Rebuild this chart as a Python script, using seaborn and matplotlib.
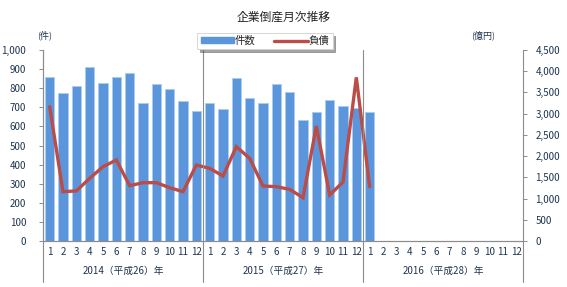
import matplotlib
matplotlib.use("Agg")
import matplotlib.pyplot as plt
import matplotlib.transforms as mtransforms
from matplotlib.lines import Line2D
from matplotlib.patches import Patch
import seaborn as sns
import pandas as pd
import numpy as np

# ---- data ----
years = ["2014（平成26）年", "2015（平成27）年", "2016（平成28）年"]
months = [str(m) for m in range(1, 13)]
counts = [860, 777, 813, 913, 829, 860, 881, 724, 824, 798, 735, 682,
          721, 689, 855, 747, 721, 820, 782, 632, 674, 740, 709, 698,
          674]
debt = [3165, 1162, 1180, 1476, 1751, 1908, 1303, 1374, 1374, 1256, 1162, 1790,
        1712, 1531, 2222, 1948, 1296, 1280, 1217, 1021, 2709, 1084, 1390, 3856,
        1280]
left_ticks = list(range(0, 1001, 100))
right_ticks = list(range(0, 4501, 500))
title = "企業倒産月次推移"

sns.set_theme(style="white")
plt.rcParams['font.family'] = ['Noto Sans CJK JP', 'DejaVu Sans']

n_slots = len(years) * len(months)
slots = [f"{y}-{m}" for y in range(len(years)) for m in months]
df = pd.DataFrame({"slot": slots[:len(counts)], "count": counts,
                   "pos": np.arange(len(counts)), "debt": debt})

fig = plt.figure(figsize=(5.67, 2.87), dpi=100)
ax = fig.add_axes([43/567, 1-241/287, 480/567, 191/287])

bar_c = "#5b96dc"
line_c = "#bb4c48"
grey = "#8c8c8c"
txt_c = "#1f3550"

sns.barplot(data=df, x="slot", y="count", order=slots, color=bar_c,
            edgecolor="#a9cdf2", linewidth=0.6, width=0.68, saturation=1, ax=ax)
ax.set_xlim(-0.5, n_slots - 0.5)
ax.set_ylim(0, 1000)
ax.set_yticks(left_ticks)
ax.set_yticklabels([f"{v:,}" for v in left_ticks], fontsize=7, color=txt_c)
ax.set_xticks(range(n_slots))
ax.set_xticklabels(months * len(years), fontsize=7, color=txt_c)
ax.set_xlabel("")
ax.set_ylabel("")
ax.set_xticks(np.arange(-0.5, n_slots, 1), minor=True)
ax.tick_params(axis="x", which="major", length=0, pad=4)
ax.tick_params(axis="x", which="minor", length=12, width=0.7, color=grey, direction="out")
ax.tick_params(axis="y", length=3, width=0.7, color=grey, direction="out", left=True, pad=9)

ax2 = ax.twinx()
sns.lineplot(data=df, x="pos", y="debt", color=line_c, linewidth=2.4, ax=ax2,
             solid_joinstyle="miter")
ax2.set_ylim(0, 4500)
ax2.set_xlim(-0.5, n_slots - 0.5)
ax2.set_yticks(right_ticks)
ax2.set_yticklabels([f"{v:,}" for v in right_ticks], fontsize=7, color=txt_c)
ax2.set_ylabel("")
ax2.set_xlabel("")
ax2.tick_params(axis="y", length=3, width=0.7, color=grey, direction="out", right=True, pad=6)

for a in (ax, ax2):
    a.spines["top"].set_visible(False)
    for s in ("left", "right", "bottom"):
        a.spines[s].set_color(grey)
        a.spines[s].set_linewidth(0.8)
ax.spines["right"].set_visible(False)

trans = mtransforms.blended_transform_factory(ax.transData, ax.transAxes)
for i in range(len(years) + 1):
    xb = i * len(months) - 0.5
    top = 1.0 if 0 < i < len(years) else 0.0
    ax2.add_line(Line2D([xb, xb], [-0.215, top], transform=trans, color=grey,
                        lw=0.8, clip_on=False))
for i, y in enumerate(years):
    ax.text(i * len(months) + 5.5, -0.155, y, transform=trans, ha="center",
            va="center", fontsize=7, color=txt_c)

fig.text(0.5, 1-17/287, title, ha="center", va="center", fontsize=8.5, color="#222222")
fig.text(45/567, 1-35/287, "(件)", ha="center", va="center", fontsize=6.5, color=txt_c)
fig.text(483/567, 1-35/287, "(億円)", ha="center", va="center", fontsize=6.5, color=txt_c)

handles = [Patch(facecolor=bar_c, edgecolor=bar_c),
           Line2D([0], [0], color=line_c, lw=2.4)]
leg = fig.legend(handles, ["件数", "負債"], loc="center", ncol=2,
                 bbox_to_anchor=(265/567, 1-41/287), fontsize=7.5, frameon=True,
                 shadow=True, fancybox=False, handlelength=3.2, handleheight=0.5,
                 handletextpad=0.1, columnspacing=1.8, borderpad=0.3)
leg.get_frame().set_edgecolor("#d0d0d0")
leg.get_frame().set_linewidth(0.6)

fig.savefig("out.png", dpi=100)
